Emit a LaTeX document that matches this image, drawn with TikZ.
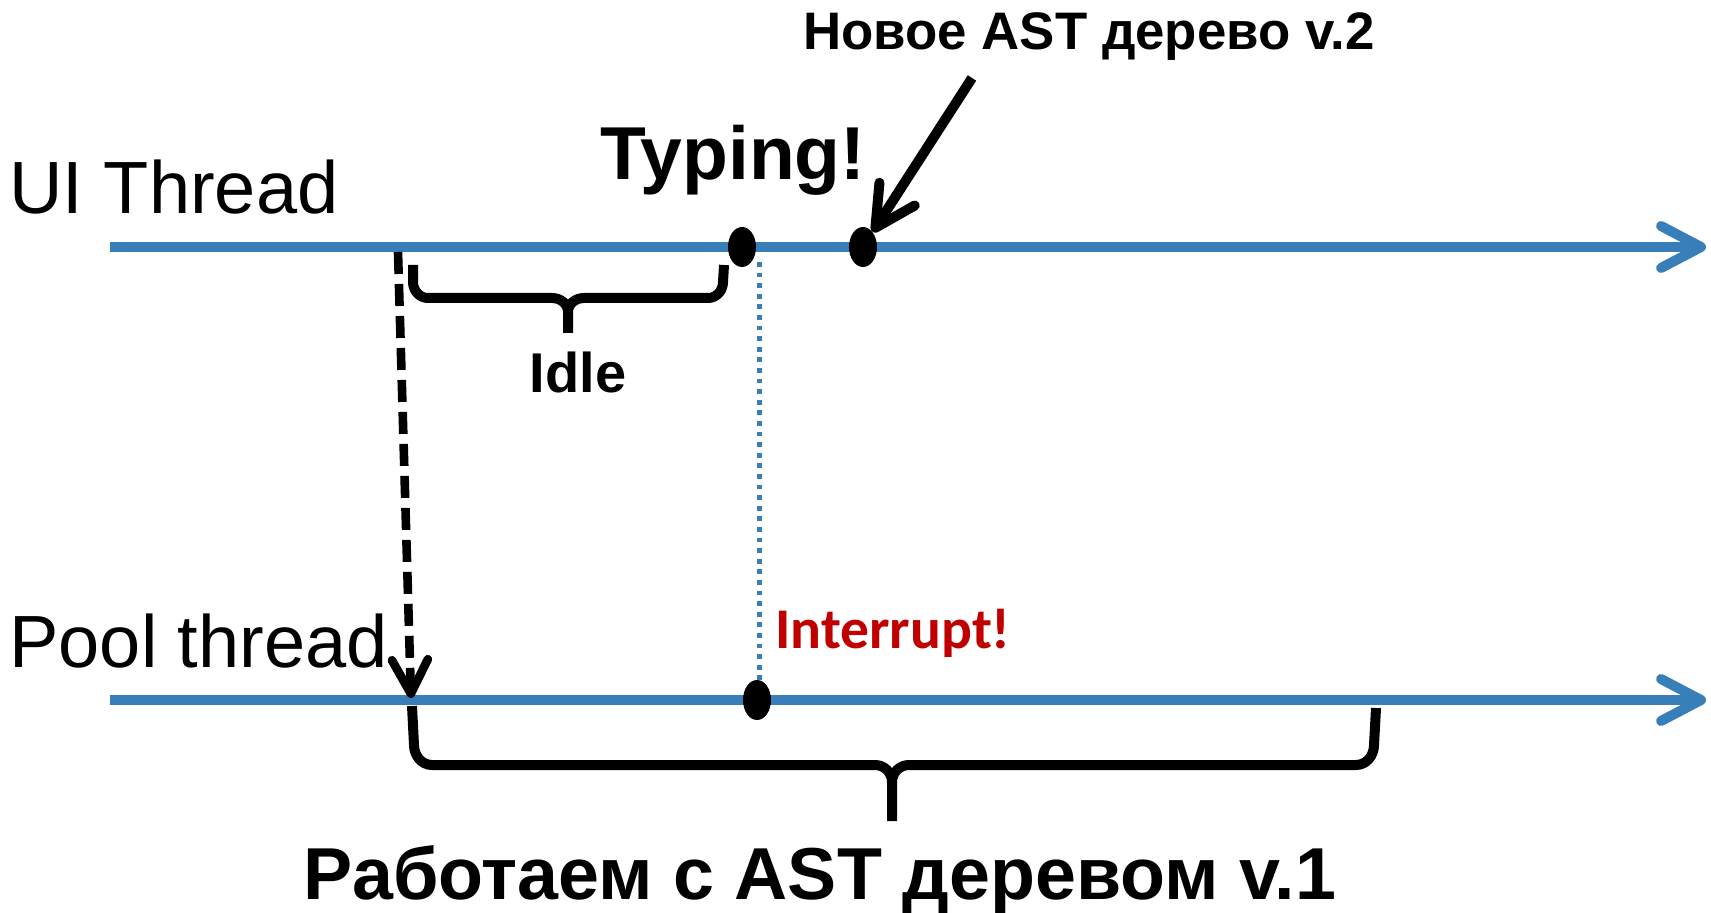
\documentclass[tikz,border=0pt]{standalone}
\usepackage{fontspec}
\setmainfont{Liberation Sans}
\newfontfamily\carlito{Carlito}
\usetikzlibrary{arrows.meta,shapes.geometric}
\definecolor{threadblue}{RGB}{56,126,185}
\definecolor{alertred}{RGB}{192,0,0}

\begin{document}
\begin{tikzpicture}[x=0.5pt,y=-0.5pt,
  thread/.style={draw=threadblue,line width=5pt,
    -{Straight Barb[length=20pt,width=21pt,line cap=round,line join=round]}},
  event/.style={ellipse,fill=black,minimum width=14pt,minimum height=20pt,inner sep=0pt},
  bracket/.style={draw=black,line width=5pt,line join=round},
  pointer/.style={draw=black,line width=5pt,
    -{Straight Barb[length=20pt,width=21pt,line cap=round,line join=round]}},
  handoff/.style={draw=black,line width=4.3pt,dash pattern=on 11pt off 5pt,
    -{Straight Barb[length=17pt,width=18pt,line cap=round,line join=round]}},
  cancel/.style={draw=threadblue,line width=2.5pt,dash pattern=on 2.4pt off 2.9pt},
  txt/.style={inner sep=0pt},
  threadname/.style={txt,anchor=base west,font=\fontsize{37pt}{41pt}\selectfont},
]
\useasboundingbox (0,0) rectangle (1711,913);

% thread axes
\coordinate (uiA) at (110,247);
\coordinate (uiB) at (1706,247);
\coordinate (poolA) at (110,700);
\coordinate (poolB) at (1706,700);
\draw[thread] (uiA) -- (uiB);
\draw[thread] (poolA) -- (poolB);

\node[threadname] (uilbl) at (9,214) {UI Thread};
\node[threadname] (poollbl) at (9,667) {Pool thread};

% events
\node[event] (typing) at (742,247) {};
\node[event] (v2) at (863,247) {};
\node[event] (intr) at (757,700) {};

% hand-off of the work to the pool thread
\coordinate (fork) at (398,252);
\coordinate (workstart) at (411,698);
\draw[handoff] (fork) -- (workstart);

% interrupt signal
\coordinate (cut) at (759,262);
\draw[cancel] (cut) -- (cut |- intr.north);

% idle brace
\draw[bracket] (413,265) -- (413,282) to[out=-90,in=180] (428,298) -- (552,298)
  to[out=0,in=90] (568,312) -- (568,333);
\draw[bracket] (568,312) to[out=90,in=180] (584,298) -- (708,298)
  to[out=0,in=-90] (723,282) -- (724,265);
\node[txt,anchor=base,font=\bfseries\fontsize{28pt}{32pt}\selectfont] (idle) at (578,393) {Idle};

% work brace
\draw[bracket] (412,706) -- (414,745) to[out=-90,in=180] (432,765) -- (875,765)
  to[out=0,in=90] (892,782) -- (892,821);
\draw[bracket] (892,782) to[out=90,in=180] (909,765) -- (1356,765)
  to[out=0,in=-90] (1374,745) -- (1376,708);
\node[txt,anchor=base,font=\bfseries\fontsize{36.8pt}{41pt}\selectfont] (work) at (820,899)
  {Работаем с AST деревом v.1};

% labels of the events
\node[txt,anchor=base,font=\bfseries\fontsize{37.5pt}{42pt}\selectfont] (typinglbl) at (733,180) {Typing!};
\node[txt,anchor=base west,font=\bfseries\fontsize{26.4pt}{30pt}\selectfont] (v2lbl) at (803,50)
  {Новое AST дерево v.2};
\coordinate (v2from) at (972,78);
\draw[pointer] (v2from) -- (v2);
\node[txt,anchor=base west,text=alertred,font=\carlito\bfseries\fontsize{28.8pt}{32pt}\selectfont] (intrlbl)
  at (775,648) {Interrupt!};
\end{tikzpicture}
\end{document}
